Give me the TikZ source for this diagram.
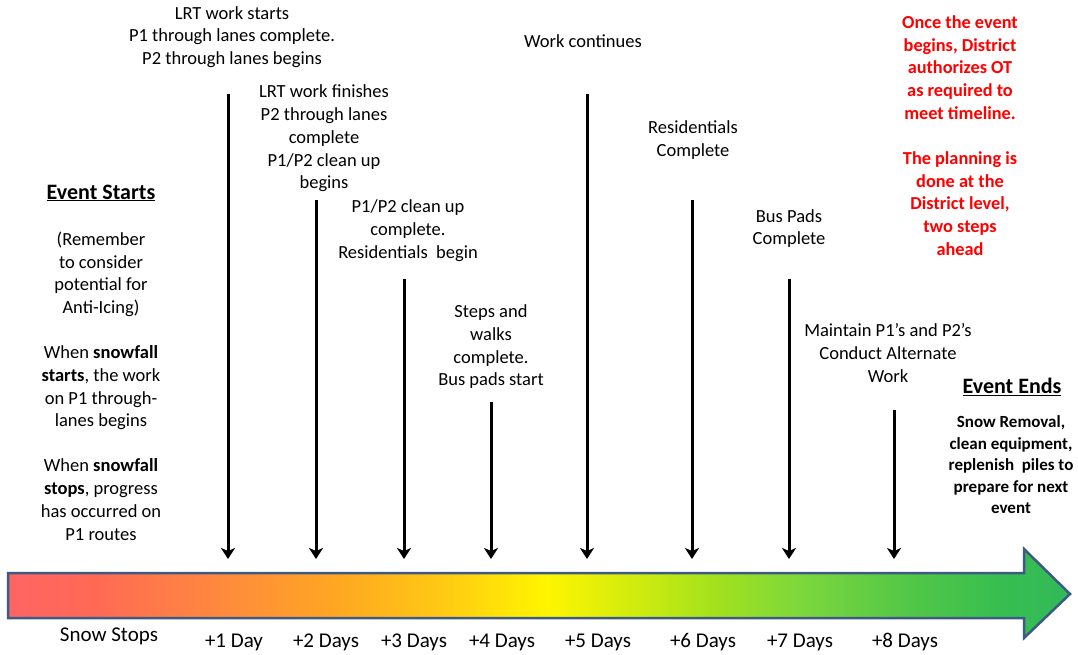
\documentclass[tikz,border=0pt]{standalone}
\usepackage{fontspec}
\setmainfont{Carlito}
\usetikzlibrary{arrows.meta}
\definecolor{s0}{RGB}{255,100,100}
\definecolor{s1}{RGB}{255,106,84}
\definecolor{s2}{RGB}{255,140,60}
\definecolor{s3}{RGB}{255,165,35}
\definecolor{s4}{RGB}{255,200,20}
\definecolor{s5}{RGB}{255,245,0}
\definecolor{s6}{RGB}{205,235,15}
\definecolor{s7}{RGB}{160,225,30}
\definecolor{s8}{RGB}{125,215,60}
\definecolor{s9}{RGB}{85,200,70}
\definecolor{s10}{RGB}{55,190,80}
\definecolor{s11}{RGB}{50,185,90}
\definecolor{arrowborder}{RGB}{63,90,130}
\definecolor{redtxt}{RGB}{255,0,0}
\pgfdeclarehorizontalshading{timeline}{100bp}{color(0bp)=(s0); color(25bp)=(s0); color(29.3bp)=(s1); color(35.5bp)=(s2); color(40.2bp)=(s3); color(45.3bp)=(s4); color(50.3bp)=(s5); color(54.8bp)=(s6); color(58.5bp)=(s7); color(62.3bp)=(s8); color(67bp)=(s9); color(71.7bp)=(s10); color(75bp)=(s11); color(100bp)=(s11)}
\begin{document}
\begin{tikzpicture}[x=1pt,y=-1pt]
\tikzset{
  lbl/.style={align=center, inner sep=0pt, font=\fontsize{18.5}{22.7}\selectfont},
  redlbl/.style={align=center, inner sep=0pt, text=redtxt, font=\fontsize{18.3}{22.7}\selectfont\bfseries},
  headlbl/.style={align=center, inner sep=0pt, font=\fontsize{22}{24}\selectfont\bfseries},
  smallbold/.style={align=center, inner sep=0pt, font=\fontsize{17}{21.5}\selectfont\bfseries},
  daylbl/.style={inner sep=0pt, font=\fontsize{21}{24}\selectfont},
  vline/.style={line width=3pt, -{Stealth[length=11pt,width=14pt,inset=3pt]}},
  bigarrow/.style={line width=2.5pt, draw=arrowborder, shading=timeline, line join=miter}
}
\useasboundingbox (0,0) rectangle (1078,654);
\fill[white] (0,0) rectangle (1078,654);

% timeline arrow
\shadedraw[bigarrow] (8,573) -- (1024,573) -- (1024,549) -- (1070,594) -- (1024,638) -- (1024,618) -- (8,618) -- cycle;

% vertical arrows
\coordinate (t1) at (228,94);  \coordinate (b1) at (228,559);
\coordinate (t2) at (316,200); \coordinate (b2) at (316,559);
\coordinate (t3) at (404,279); \coordinate (b3) at (404,559);
\coordinate (t4) at (491,402); \coordinate (b4) at (491,559);
\coordinate (t5) at (587,94);  \coordinate (b5) at (587,559);
\coordinate (t6) at (692,200); \coordinate (b6) at (692,559);
\coordinate (t7) at (789,279); \coordinate (b7) at (789,559);
\coordinate (t8) at (894,410); \coordinate (b8) at (894,559);
\foreach \i in {1,...,8} { \draw[vline] (t\i) -- (b\i); }

% labels above
\node[lbl] (lA) at (232,37) {LRT work starts\\P1 through lanes complete.\\P2 through lanes begins};
\node[lbl] (lB) at (324,138.5) {LRT work finishes\\P2 through lanes\\complete\\P1/P2 clean up\\begins};
\node[lbl] (lC) at (408,230.5) {P1/P2 clean up\\complete.\\Residentials\ \ begin};
\node[lbl] (lD) at (491,347) {Steps and\\walks\\complete.\\Bus pads start};
\node[lbl] (lE) at (583,41) {Work continues};
\node[lbl] (lF) at (693,140) {Residentials\\Complete};
\node[lbl] (lG) at (789,228.5) {Bus Pads\\Complete};
\node[lbl] (lH) at (888,353) {Maintain P1’s and P2’s\\Conduct Alternate\\Work};

% red note
\node[redlbl] (red) at (960,135.5) {Once the event\\begins, District\\authorizes OT\\as required to\\meet timeline.\\[22.5pt]The planning is\\done at the\\District level,\\two steps\\ahead};

% left column
\node[headlbl] (estart) at (101,193) {\underline{Event Starts}};
\node[lbl] (left) at (101,386) {(Remember\\to consider\\potential for\\Anti-Icing)\\[22.5pt]When \textbf{snowfall}\\\textbf{starts}, the work\\on P1 through-\\lanes begins\\[22.5pt]When \textbf{snowfall}\\\textbf{stops}, progress\\has occurred on\\P1 routes};

% right column
\node[headlbl] (eend) at (1012,387) {\underline{Event Ends}};
\node[smallbold] (rem) at (1011,465) {Snow Removal,\\clean equipment,\\replenish\ \ piles to\\prepare for next\\event};

% day labels
\node[daylbl] (d0) at (109,636) {Snow Stops};
\node[daylbl] (d1) at (234,642) {+1 Day};
\node[daylbl] (d2) at (326,642) {+2 Days};
\node[daylbl] (d3) at (414,642) {+3 Days};
\node[daylbl] (d4) at (502,642) {+4 Days};
\node[daylbl] (d5) at (598,642) {+5 Days};
\node[daylbl] (d6) at (703,642) {+6 Days};
\node[daylbl] (d7) at (800,642) {+7 Days};
\node[daylbl] (d8) at (905,642) {+8 Days};
\end{tikzpicture}
\end{document}
